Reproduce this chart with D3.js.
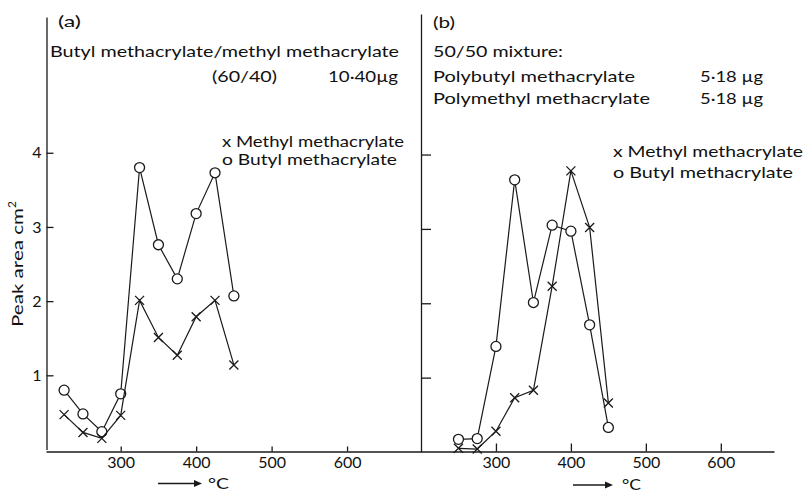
<!DOCTYPE html>
<html><head><meta charset="utf-8">
<script src="https://cdn.jsdelivr.net/npm/d3@7"></script>
<style>body{margin:0;background:#fff}svg{display:block}text{font-family:Lato,"Noto Sans",sans-serif;fill:#111}</style>
</head><body><svg id="c" width="809" height="493"></svg>
<script>
const tempsA = [225,250,275,300,325,350,375,400,425,450];
const butylA = [0.80,0.48,0.24,0.75,3.80,2.76,2.30,3.18,3.73,2.07];
const methylA = [0.47,0.23,0.15,0.46,2.01,1.51,1.27,1.79,2.01,1.14];
const tempsB = [250,275,300,325,350,375,400,425,450];
const butylB = [0.17,0.18,1.42,3.66,2.01,3.05,2.97,1.71,0.33];
const methylB = [0.05,0.04,0.28,0.73,0.83,2.23,3.78,3.02,0.66];
const xTicks = [300,400,500,600];
const yTicks = [1,2,3,4];
const yLabelMain = "Peak area cm";
const yLabelSup = "2";
const unitLabel = "°C";

const svg = d3.select("#c");
const INK = "#1a1a1a";
const FS = 16;

const xA = d3.scaleLinear().domain([201,698]).range([46,421]);
const yA = d3.scaleLinear().domain([0,5.83]).range([449.5,17]);
const xB = d3.scaleLinear().domain([200,671]).range([421,774]);
const yB = d3.scaleLinear().domain([0,5.89]).range([452,14]);
const axisY = 451.5;

function styleAxis(g){
  g.selectAll("path,line").attr("stroke",INK).attr("stroke-width",1.3);
  g.selectAll("text").attr("font-size",FS).attr("font-family","Lato, 'Noto Sans', sans-serif").attr("fill","#111");
}
// Panel A axes
svg.append("g").attr("transform",`translate(0,${axisY})`)
  .call(d3.axisBottom(xA).tickValues(xTicks).tickSizeInner(-5).tickSizeOuter(0).tickPadding(5.5).tickFormat(d3.format("d")))
  .call(styleAxis);
svg.append("g").attr("transform","translate(46.5,0)")
  .call(d3.axisLeft(yA).tickValues(yTicks).tickSizeInner(-7).tickSizeOuter(0).tickPadding(5).tickFormat(d3.format("d")))
  .call(styleAxis);
// Panel B axes
svg.append("g").attr("transform",`translate(0,${axisY})`)
  .call(d3.axisBottom(xB).tickValues(xTicks).tickSizeInner(-8).tickSizeOuter(0).tickPadding(5.5).tickFormat(d3.format("d")))
  .call(styleAxis);
svg.append("g").attr("transform","translate(421,0)")
  .call(d3.axisLeft(yB).tickValues(yTicks).tickSizeInner(-10).tickSizeOuter(0).tickFormat(""))
  .call(styleAxis);

function drawSeries(temps, vals, xs, ys, marker){
  const pts = temps.map((t,i)=>[xs(t), ys(vals[i])]);
  svg.append("path").attr("d", d3.line()(pts)).attr("fill","none").attr("stroke",INK).attr("stroke-width",1.2);
  if(marker==="o"){
    svg.append("g").selectAll("circle").data(pts).join("circle")
      .attr("cx",d=>d[0]).attr("cy",d=>d[1]).attr("r",5)
      .attr("fill","#fff").attr("stroke",INK).attr("stroke-width",1.3);
  } else {
    const s = 4.5;
    svg.append("g").selectAll("path").data(pts).join("path")
      .attr("d",d=>`M${d[0]-s},${d[1]-s}L${d[0]+s},${d[1]+s}M${d[0]-s},${d[1]+s}L${d[0]+s},${d[1]-s}`)
      .attr("stroke",INK).attr("stroke-width",1.3);
  }
}
drawSeries(tempsA, butylA, xA, yA, "o");
drawSeries(tempsA, methylA, xA, yA, "x");
drawSeries(tempsB, butylB, xB, yB, "o");
drawSeries(tempsB, methylB, xB, yB, "x");

function txt(s,x,y,w,anchor){
  const t = svg.append("text").attr("x",x).attr("y",y).attr("font-size",FS).text(s);
  if(anchor) t.attr("text-anchor",anchor);
  if(w) t.attr("textLength",w).attr("lengthAdjust","spacingAndGlyphs");
  return t;
}
// Panel A texts
txt("(a)",58,27,23);
txt("Butyl methacrylate/methyl methacrylate",50,57,349);
txt("(60/40)",212,82,65);
txt("10·40µg",328,82,70);
txt("x Methyl  methacrylate",222,147,182);
txt("o Butyl  methacrylate",222,165,175);
// Panel B texts
txt("(b)",433,28,22);
txt("50/50 mixture:",433,57,130);
txt("Polybutyl  methacrylate",433,82,202);
txt("5·18 µg",700,82,63);
txt("Polymethyl  methacrylate",433,104,217);
txt("5·18 µg",700,104,63);
txt("x Methyl  methacrylate",613,157,190);
txt("o Butyl  methacrylate",613,178,180);

// Y label
const yl = svg.append("text").attr("transform","translate(23,327) rotate(-90)").attr("font-size",FS);
yl.append("tspan").attr("textLength",119).attr("lengthAdjust","spacingAndGlyphs").text(yLabelMain);
yl.append("tspan").attr("dy",-7).attr("font-size",12).text(yLabelSup);

// Arrows with °C
function arrow(x0,x1,y){
  svg.append("line").attr("x1",x0).attr("x2",x1-7).attr("y1",y).attr("y2",y).attr("stroke",INK).attr("stroke-width",1.3);
  svg.append("path").attr("d",`M${x1-8},${y-3.5}L${x1},${y}L${x1-8},${y+3.5}Z`).attr("fill",INK);
}
arrow(158,202,483.5);
txt(unitLabel,208,489,21);
arrow(573,613,485);
txt(unitLabel,622,490,19);
</script></body></html>
